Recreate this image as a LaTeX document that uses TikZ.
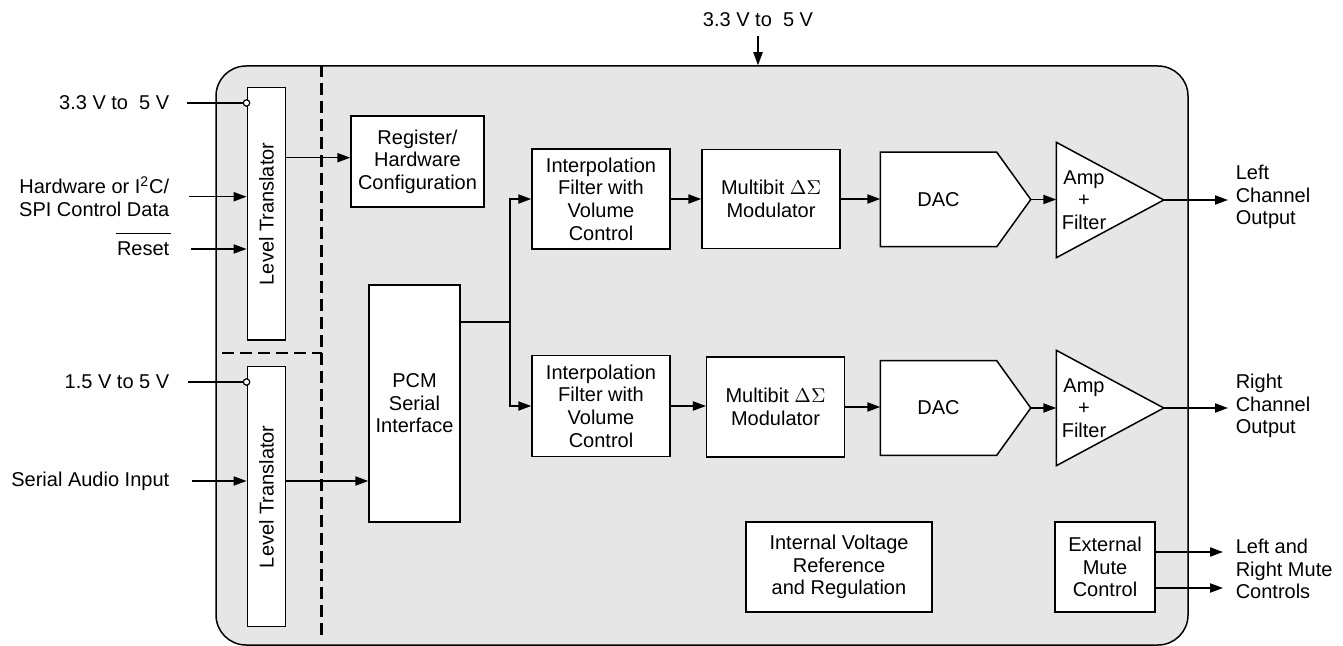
\documentclass[tikz,border=0pt]{standalone}
\usepackage{fontspec}
\setmainfont{Liberation Sans}
\usepackage{graphicx}
\usetikzlibrary{arrows.meta,calc}
\definecolor{bodyfill}{RGB}{230,230,230}
\begin{document}
\begin{tikzpicture}[x=0.5pt,y=-0.5pt,
  font=\fontsize{10}{11.3}\selectfont,
  line width=0.75pt,
  blk/.style={draw, fill=white, inner sep=0pt, align=center},
  ghost/.style={inner sep=0pt},
  arr/.style={-{Triangle[length=6.5pt,width=4.6pt]}},
  lbl/.style={inner sep=0pt, align=center},
  dsh/.style={line width=1.25pt, dash pattern=on 6pt off 3pt}
]
\useasboundingbox (0,0) rectangle (1343,646);

% chip body
\node[draw, fill=bodyfill, rounded corners=15pt, inner sep=0pt,
      minimum width=486pt, minimum height=289.5pt] (body) at (702,355.5) {};

% dashed separators
\draw[dsh] ($(body.north west)+(106,0)$) -- ($(body.south west)+(106,-10)$);
\draw[dsh] (222,353) -- (322,353);

% level translators
\node[blk, minimum width=19.2pt, minimum height=126.2pt] (lt1) at (266.5,213.9) {\rotatebox{90}{Level Translator}};
\node[blk, minimum width=19.2pt, minimum height=130pt] (lt2) at (266.5,496.7) {\rotatebox{90}{Level Translator}};

% blocks
\node[blk, minimum width=66.5pt, minimum height=45.5pt] (reg) at (417.5,161.5) {Register/\\Hardware\\Configuration};
\node[blk, minimum width=45.5pt, minimum height=118.5pt] (pcm) at (414.5,403.5) {PCM\\Serial\\Interface};
\node[blk, minimum width=69pt, minimum height=50pt] (int1) at (601,199) {Interpolation\\Filter with\\Volume\\Control};
\node[blk, minimum width=69pt, minimum height=49.5pt] (mod1) at (771,199) {Multibit $\Delta\Sigma$\\Modulator};
\node[blk, minimum width=69pt, minimum height=50.5pt] (int2) at (601,406) {Interpolation\\Filter with\\Volume\\Control};
\node[blk, minimum width=68.8pt, minimum height=50pt] (mod2) at (775.5,407) {Multibit $\Delta\Sigma$\\Modulator};

% DACs
\node[ghost, minimum width=57.5pt, minimum height=46.5pt] (dac1) at (938.5,199.5) {};
\coordinate (dac1tip) at ($(dac1.east)+(34,0)$);
\filldraw[fill=white] (dac1.north west) -- (dac1.north east) -- (dac1tip) -- (dac1.south east) -- (dac1.south west) -- cycle;
\node[lbl] (dac1t) at (dac1.center) {DAC};

\node[ghost, minimum width=57.5pt, minimum height=46.5pt] (dac2) at (938.5,408) {};
\coordinate (dac2tip) at ($(dac2.east)+(34,0)$);
\filldraw[fill=white] (dac2.north west) -- (dac2.north east) -- (dac2tip) -- (dac2.south east) -- (dac2.south west) -- cycle;
\node[lbl] (dac2t) at (dac2.center) {DAC};

% Amps
\node[ghost, minimum width=53pt, minimum height=57pt] (amp1) at (1110,200) {};
\filldraw[fill=white] (amp1.north west) -- (amp1.east) -- (amp1.south west) -- cycle;
\node[lbl] (amp1t) at (1084,200) {Amp\\+\\Filter};

\node[ghost, minimum width=53pt, minimum height=57pt] (amp2) at (1110,408) {};
\filldraw[fill=white] (amp2.north west) -- (amp2.east) -- (amp2.south west) -- cycle;
\node[lbl] (amp2t) at (1084,408) {Amp\\+\\Filter};

% bottom blocks
\node[blk, minimum width=93pt, minimum height=45pt] (ivr) at (839,567) {Internal Voltage\\Reference\\and Regulation};
\node[blk, minimum width=50pt, minimum height=45pt] (extm) at (1105,567) {External\\Mute\\Control};

% external labels
\node[lbl, anchor=south] (vtop) at (758,27) {3.3 V to\ \ 5 V};
\node[lbl, anchor=east] (v33l) at (170,103) {3.3 V to\ \ 5 V};
\node[lbl, anchor=east, align=right] (hw) at (170,196.7) {Hardware or I\textsuperscript{2}C/\\SPI Control Data};
\node[lbl, anchor=east] (rst) at (170,249) {Reset};
\node[lbl, anchor=east] (v15l) at (170,382) {1.5 V to 5 V};
\node[lbl, anchor=east] (sai) at (170,481) {Serial Audio Input};
\node[lbl, anchor=west, align=left] (lco) at (1235,197) {Left\\Channel\\Output};
\node[lbl, anchor=west, align=left] (rco) at (1235,406) {Right\\Channel\\Output};
\node[lbl, anchor=west, align=left] (lrm) at (1235,569) {Left and\\Right Mute\\Controls};

% overline of Reset
\draw[line width=0.6pt] ([yshift=4pt]rst.north west) -- ([yshift=4pt,xshift=0.5pt]rst.north east);

% supply arrow at top
\draw[arr] ([yshift=-4.5pt]vtop.south) -- (vtop.south |- body.north);

% left side inputs
\draw ([xshift=8.5pt]v33l.east) -- (lt1.west |- v33l.east);
\draw[fill=white, line width=0.6pt] (lt1.west |- v33l.east) circle (1.6pt);
\draw[arr] ([xshift=9.5pt]hw.east) -- (lt1.west |- hw.east);
\draw[arr] ([xshift=10.5pt]rst.east) -- (lt1.west |- rst.east);
\draw ([xshift=9pt]v15l.east) -- (lt2.west |- v15l.east);
\draw[fill=white, line width=0.6pt] (lt2.west |- v15l.east) circle (1.6pt);
\draw[arr] ([xshift=11pt]sai.east) -- (lt2.west |- sai.east);

% level translator outputs
\draw[arr] ([yshift=1.9pt]reg.west -| lt1.east) -- ([yshift=1.9pt]reg.west);
\draw[arr] (lt2.east |- sai.east) -- (pcm.west |- sai.east);

% PCM branch
\coordinate (br) at ($(pcm.east |- 0,322)+(49,0)$);
\draw (pcm.east |- br) -- (br);
\draw[arr] (br) |- (int1.west);
\draw[arr] (br) |- (int2.west);

% signal chain
\draw[arr] (int1.east) -- (int1.east -| mod1.west);
\draw[arr] (mod1.east) -- (mod1.east -| dac1.west);
\draw[arr] (dac1tip) -- (dac1tip -| amp1.west);
\draw[arr] (amp1.east) -- ([xshift=-3.5pt]amp1.east -| lco.west);

\draw[arr] (int2.east) -- (int2.east -| mod2.west);
\draw[arr] (mod2.east) -- (mod2.east -| dac2.west);
\draw[arr] (dac2tip) -- (dac2tip -| amp2.west);
\draw[arr] (amp2.east) -- ([xshift=-3.5pt]amp2.east -| rco.west);

% mute outputs
\draw[arr] ([yshift=7.5pt]extm.east) -- ([yshift=7.5pt,xshift=-6pt]extm.east -| lrm.west);
\draw[arr] ([yshift=-10.5pt]extm.east) -- ([yshift=-10.5pt,xshift=-6pt]extm.east -| lrm.west);
\end{tikzpicture}
\end{document}
